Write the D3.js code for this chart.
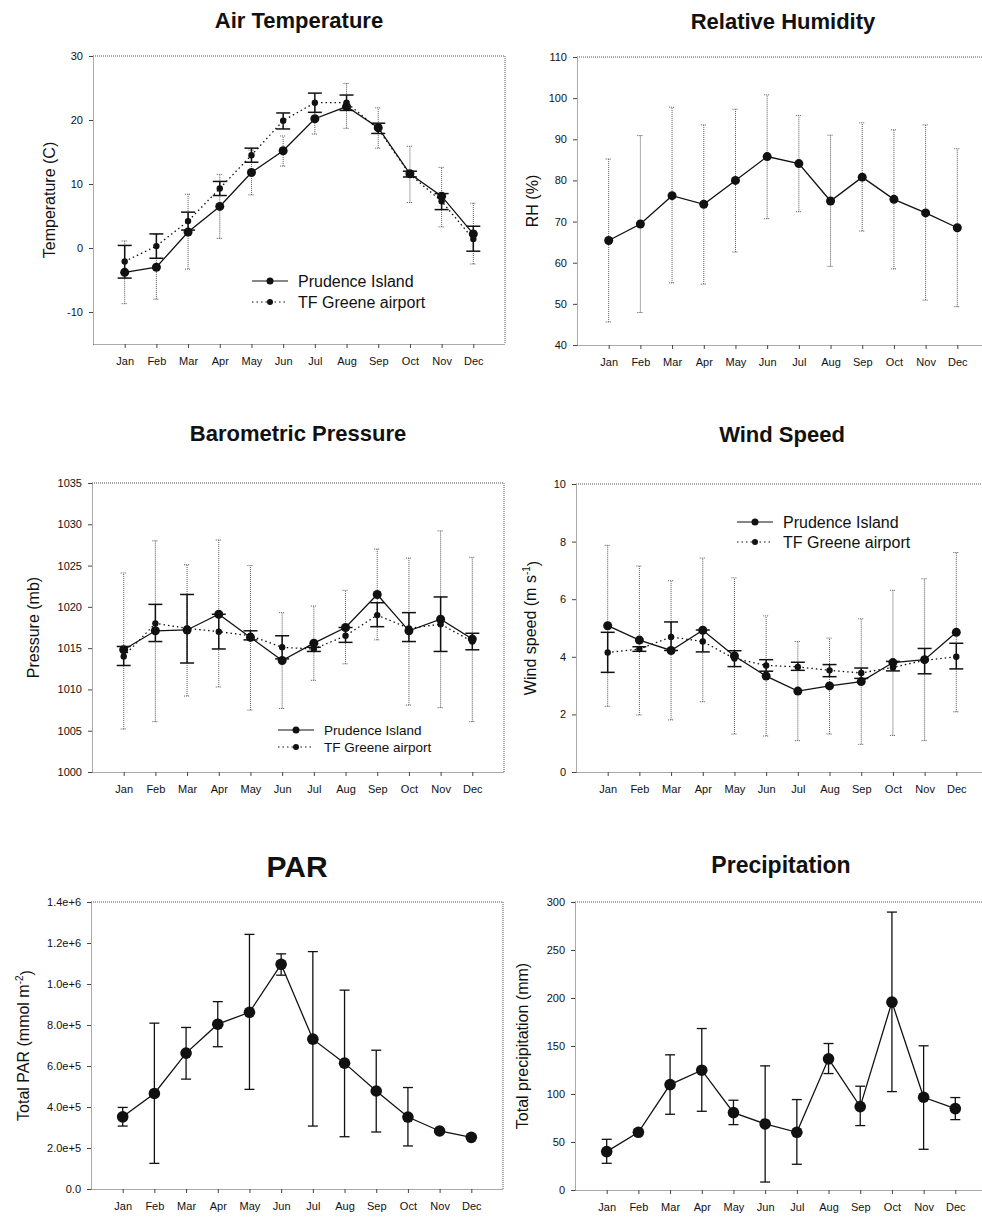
<!DOCTYPE html>
<html lang="en">
<head>
<meta charset="utf-8">
<title>Monthly means: Prudence Island and TF Greene</title>
<script src="https://cdnjs.cloudflare.com/ajax/libs/d3/7.8.5/d3.min.js"></script>
<style>
  body { margin: 0; background: #fff; }
  svg text { font-family: "Liberation Sans", Arial, sans-serif; fill: #111; }
</style>
</head>
<body>
<script>
// Month labels
var months = ["Jan","Feb","Mar","Apr","May","Jun","Jul","Aug","Sep","Oct","Nov","Dec"];
var seriesNames = ["Prudence Island", "TF Greene airport"];

// Air temperature (C)
var tempPI   = [-3.8, -3.0, 2.5, 6.5, 11.8, 15.2, 20.2, 22.1, 18.8, 11.6, 8.1, 2.2];
var tempPIlo = [-8.7, -8.0, -3.3, 1.5, 8.3, 12.8, 17.8, 18.7, 15.6, 7.1, 3.3, -2.5];
var tempPIhi = [1.1, 2.1, 8.4, 11.5, 15.3, 17.5, 22.6, 25.7, 21.9, 15.9, 12.6, 7.0];
var tempTF   = [-2.1, 0.3, 4.2, 9.3, 14.5, 19.9, 22.7, 22.7, 18.6, 11.5, 7.3, 1.4];
var tempTFlo = [-4.7, -1.6, 2.8, 8.2, 13.4, 18.6, 21.2, 21.5, 17.9, 11.1, 6.0, -0.5];
var tempTFhi = [0.4, 2.2, 5.6, 10.4, 15.6, 21.1, 24.2, 23.9, 19.5, 12.0, 8.5, 3.4];
var tempTicks = [-10, 0, 10, 20, 30];

// Relative humidity (%)
var rh   = [65.4, 69.4, 76.3, 74.2, 80.0, 85.8, 84.1, 75.0, 80.8, 75.4, 72.1, 68.5];
var rhLo = [45.6, 47.9, 55.1, 54.8, 62.6, 70.7, 72.4, 59.1, 67.7, 58.5, 50.9, 49.3];
var rhHi = [85.2, 90.9, 97.8, 93.5, 97.3, 100.8, 95.8, 91.0, 94.0, 92.3, 93.5, 87.7];
var rhTicks = [40, 50, 60, 70, 80, 90, 100, 110];

// Barometric pressure (mb)
var presPI   = [1014.8, 1017.1, 1017.2, 1019.1, 1016.3, 1013.5, 1015.6, 1017.5, 1021.5, 1017.1, 1018.5, 1016.1];
var presPIlo = [1005.2, 1006.1, 1009.2, 1010.3, 1007.5, 1007.7, 1011.1, 1013.1, 1016.0, 1008.1, 1007.8, 1006.1];
var presPIhi = [1024.1, 1028.0, 1025.1, 1028.1, 1025.0, 1019.3, 1020.1, 1022.0, 1027.0, 1025.9, 1029.2, 1026.0];
var presTF   = [1014.0, 1018.0, 1017.4, 1017.0, 1016.5, 1015.1, 1014.9, 1016.5, 1019.0, 1017.4, 1017.9, 1015.8];
var presTFlo = [1012.9, 1015.8, 1013.2, 1014.9, 1016.0, 1013.7, 1014.6, 1015.7, 1017.6, 1015.8, 1014.6, 1014.8];
var presTFhi = [1015.2, 1020.3, 1021.5, 1019.1, 1017.1, 1016.5, 1015.1, 1017.5, 1020.5, 1019.3, 1021.2, 1016.8];
var presTicks = [1000, 1005, 1010, 1015, 1020, 1025, 1030, 1035];

// Wind speed (m/s)
var windPI   = [5.08, 4.58, 4.22, 4.92, 4.03, 3.33, 2.81, 2.99, 3.14, 3.80, 3.90, 4.85];
var windPIlo = [2.28, 1.98, 1.81, 2.44, 1.32, 1.25, 1.09, 1.32, 0.96, 1.27, 1.09, 2.09];
var windPIhi = [7.87, 7.15, 6.64, 7.43, 6.74, 5.42, 4.53, 4.65, 5.32, 6.31, 6.71, 7.62];
var windTF   = [4.15, 4.27, 4.69, 4.53, 3.94, 3.70, 3.65, 3.53, 3.44, 3.63, 3.88, 4.00];
var windTFlo = [3.46, 4.19, 4.22, 4.17, 3.66, 3.50, 3.53, 3.31, 3.25, 3.51, 3.41, 3.58];
var windTFhi = [4.85, 4.35, 5.21, 4.93, 4.21, 3.90, 3.81, 3.73, 3.61, 3.84, 4.29, 4.47];
var windTicks = [0, 2, 4, 6, 8, 10];

// PAR (mmol m-2)
var par   = [3.52e5, 4.66e5, 6.63e5, 8.04e5, 8.62e5, 10.96e5, 7.31e5, 6.14e5, 4.78e5, 3.51e5, 2.83e5, 2.52e5];
var parLo = [3.07e5, 1.25e5, 5.36e5, 6.94e5, 4.86e5, 10.43e5, 3.07e5, 2.55e5, 2.78e5, 2.10e5, 2.80e5, 2.50e5];
var parHi = [3.98e5, 8.09e5, 7.88e5, 9.14e5, 12.42e5, 11.47e5, 11.58e5, 9.70e5, 6.77e5, 4.95e5, 2.86e5, 2.54e5];
var parTicks = [0, 2e5, 4e5, 6e5, 8e5, 10e5, 12e5, 14e5];

// Precipitation (mm)
var precip   = [40.0, 60.1, 109.8, 124.8, 80.6, 68.8, 60.1, 136.6, 86.9, 195.7, 96.6, 84.8];
var precipLo = [27.8, 57.5, 78.9, 82.0, 68.1, 8.3, 26.8, 121.3, 67.1, 102.5, 42.4, 73.3];
var precipHi = [52.8, 62.7, 140.8, 168.2, 93.5, 129.3, 94.2, 152.6, 108.1, 289.5, 150.2, 96.3];
var precipTicks = [0, 50, 100, 150, 200, 250, 300];

var w = 982, h = 1217;
var plotW = 412;

var svg = d3.select("body").append("svg")
	.attr("width", w)
	.attr("height", h);

//Error bar styles
var thinBar = {stroke: "#555", width: 1, dash: "1,1", cap: 3};
var thickBar = {stroke: "#111", width: 1.5, dash: null, cap: 7};
var solidBar = {stroke: "#111", width: 1.3, dash: null, cap: 5};

function sciFmt(v) {
	if (v === 0) return "0.0";
	var e = Math.floor(Math.log10(v));
	return (v / Math.pow(10, e)).toFixed(1) + "e+" + e;
}

function drawPanel(p) {
	var x = d3.scaleLinear().domain([0, 13]).range([p.left, p.left + plotW]);
	var y = d3.scaleLinear().domain(p.yDomain).range([p.bottom, p.top]);
	var g = svg.append("g");

	//Top and right frame
	g.append("path")
		.attr("d", `M${p.left},${p.top}H${p.left + plotW}V${p.bottom}`)
		.attr("fill", "none")
		.attr("stroke", "#555")
		.attr("stroke-dasharray", "1,1");

	//X axis
	var xAxis = d3.axisBottom(x)
		.tickValues(d3.range(1, 13))
		.tickFormat(i => months[i - 1])
		.tickSize(4)
		.tickSizeOuter(0)
		.tickPadding(9);
	var gx = g.append("g")
		.attr("transform", `translate(0,${p.bottom})`)
		.call(xAxis);

	//Y axis (plain hyphen for negatives)
	var yAxis = d3.axisLeft(y)
		.tickValues(p.yTicks)
		.tickFormat(p.fmt || (d => String(d)))
		.tickSize(4)
		.tickSizeOuter(0)
		.tickPadding(6);
	var gy = g.append("g")
		.attr("transform", `translate(${p.left},0)`)
		.call(yAxis);

	[gx, gy].forEach(a => {
		a.attr("font-family", null).attr("font-size", null);
		a.select(".domain").attr("stroke", "#555").attr("stroke-dasharray", "1,1");
		a.selectAll(".tick line").attr("stroke", "#444");
		a.selectAll(".tick text").attr("font-size", "11px").attr("fill", "#111");
	});

	//Title
	g.append("text")
		.attr("x", p.left + plotW / 2)
		.attr("y", p.titleY)
		.attr("text-anchor", "middle")
		.attr("font-weight", "bold")
		.attr("font-size", p.titleSize + "px")
		.text(p.title);

	//Y label
	var lab = g.append("text")
		.attr("transform", `translate(${p.left - p.labelOff},${(p.top + p.bottom) / 2}) rotate(-90)`)
		.attr("text-anchor", "middle")
		.attr("dy", "0.35em")
		.attr("font-size", "16px");
	p.label.forEach(part => {
		var t = lab.append("tspan").text(part.t);
		if (part.sup) t.attr("font-size", "10px").attr("dy", "-0.6em");
		if (part.after) t.attr("dy", "0.6em");
	});

	//Error bars, then lines, then dots
	p.series.forEach(s => {
		var b = s.bar;
		var eg = g.append("g")
			.attr("stroke", b.stroke)
			.attr("stroke-width", b.width)
			.attr("stroke-dasharray", b.dash);
		s.mean.forEach((m, i) => {
			var cx = x(i + 1);
			eg.append("line").attr("x1", cx).attr("x2", cx)
				.attr("y1", y(s.lo[i])).attr("y2", y(s.hi[i]));
			[s.lo[i], s.hi[i]].forEach(v => {
				eg.append("line").attr("x1", cx - b.cap).attr("x2", cx + b.cap)
					.attr("y1", y(v)).attr("y2", y(v));
			});
		});
	});

	p.series.forEach(s => {
		var line = d3.line().x((d, i) => x(i + 1)).y(d => y(d));
		g.append("path")
			.datum(s.mean)
			.attr("d", line)
			.attr("fill", "none")
			.attr("stroke", "#111")
			.attr("stroke-width", 1.3)
			.attr("stroke-dasharray", s.dash);
		g.selectAll(null)
			.data(s.mean)
			.enter()
			.append("circle")
			.attr("cx", (d, i) => x(i + 1))
			.attr("cy", d => y(d))
			.attr("r", s.r)
			.attr("fill", "#111");
	});

	//Legend
	if (p.legend) {
		var L = p.legend;
		p.series.forEach((s, k) => {
			var ly = L.y + k * L.dy;
			g.append("line")
				.attr("x1", L.x).attr("x2", L.x + 36)
				.attr("y1", ly).attr("y2", ly)
				.attr("stroke", "#111")
				.attr("stroke-width", 1.2)
				.attr("stroke-dasharray", s.dash);
			g.append("circle")
				.attr("cx", L.x + 18).attr("cy", ly)
				.attr("r", k === 0 ? 3.5 : 3)
				.attr("fill", "#111");
			g.append("text")
				.attr("x", L.x + 46).attr("y", ly)
				.attr("dy", "0.35em")
				.attr("font-size", L.size + "px")
				.text(seriesNames[k]);
		});
	}
}

var piDash = null, tfDash = "1.5,3";

drawPanel({
	title: "Air Temperature", titleY: 28, titleSize: 22,
	left: 93, top: 56, bottom: 344,
	yDomain: [-15, 30], yTicks: tempTicks,
	label: [{t: "Temperature (C)"}], labelOff: 44,
	series: [
		{mean: tempPI, lo: tempPIlo, hi: tempPIhi, bar: thinBar, dash: piDash, r: 4.5},
		{mean: tempTF, lo: tempTFlo, hi: tempTFhi, bar: thickBar, dash: tfDash, r: 3.2}
	],
	legend: {x: 252, y: 281, dy: 21, size: 16}
});

drawPanel({
	title: "Relative Humidity", titleY: 29, titleSize: 22,
	left: 577, top: 57, bottom: 345,
	yDomain: [40, 110], yTicks: rhTicks,
	label: [{t: "RH (%)"}], labelOff: 45,
	series: [
		{mean: rh, lo: rhLo, hi: rhHi, bar: thinBar, dash: null, r: 4.5}
	]
});

drawPanel({
	title: "Barometric Pressure", titleY: 441, titleSize: 22,
	left: 92, top: 483, bottom: 772,
	yDomain: [1000, 1035], yTicks: presTicks,
	label: [{t: "Pressure (mb)"}], labelOff: 59,
	series: [
		{mean: presPI, lo: presPIlo, hi: presPIhi, bar: thinBar, dash: piDash, r: 4.5},
		{mean: presTF, lo: presTFlo, hi: presTFhi, bar: thickBar, dash: tfDash, r: 3.2}
	],
	legend: {x: 278, y: 730, dy: 17, size: 13.5}
});

drawPanel({
	title: "Wind Speed", titleY: 442, titleSize: 22,
	left: 576, top: 484, bottom: 772,
	yDomain: [0, 10], yTicks: windTicks,
	label: [{t: "Wind speed (m s"}, {t: "-1", sup: true}, {t: ")", after: true}], labelOff: 46,
	series: [
		{mean: windPI, lo: windPIlo, hi: windPIhi, bar: thinBar, dash: piDash, r: 4.5},
		{mean: windTF, lo: windTFlo, hi: windTFhi, bar: thickBar, dash: tfDash, r: 3.2}
	],
	legend: {x: 737, y: 522, dy: 20, size: 16}
});

drawPanel({
	title: "PAR", titleY: 877, titleSize: 30,
	left: 91, top: 902, bottom: 1189,
	yDomain: [0, 1.4e6], yTicks: parTicks, fmt: sciFmt,
	label: [{t: "Total PAR (mmol m"}, {t: "-2", sup: true}, {t: ")", after: true}], labelOff: 68,
	series: [
		{mean: par, lo: parLo, hi: parHi, bar: solidBar, dash: null, r: 5.8}
	]
});

drawPanel({
	title: "Precipitation", titleY: 873, titleSize: 23,
	left: 575, top: 902, bottom: 1190,
	yDomain: [0, 300], yTicks: precipTicks,
	label: [{t: "Total precipitation (mm)"}], labelOff: 53,
	series: [
		{mean: precip, lo: precipLo, hi: precipHi, bar: solidBar, dash: null, r: 5.8}
	]
});
</script>
</body>
</html>
